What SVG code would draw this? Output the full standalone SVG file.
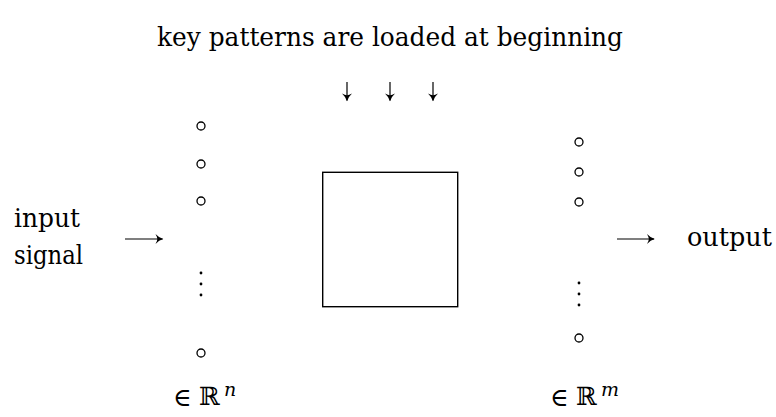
<svg xmlns="http://www.w3.org/2000/svg" width="776" height="417" viewBox="0 0 776 417">
  <style>
    text { fill: #000; }
    .lbl { font-family: "DejaVu Serif", "Liberation Serif", serif; font-size: 26px; }
    .math { font-family: "DejaVu Serif", "Liberation Serif", serif; font-size: 25px; }
    .sup { font-family: "DejaVu Serif", "Liberation Serif", serif; font-style: italic; font-size: 19px; }
    .unit { fill: #fff; stroke: #000; stroke-width: 1.3; }
    .dot { fill: #000; }
    .wire { stroke: #000; stroke-width: 1.2; fill: none; marker-end: url(#head); }
    .block { fill: #fff; stroke: #000; stroke-width: 1.4; }
  </style>
  <defs>
    <marker id="head" markerUnits="userSpaceOnUse" markerWidth="14" markerHeight="14" viewBox="-9 -7 11 14" refX="0" refY="0" orient="auto">
      <path d="M0.8,0 Q-3.5,-1.2 -7,-5 Q-5,-1.5 -5.2,0 Q-5,1.5 -7,5 Q-3.5,1.2 0.8,0 Z" fill="#000"/>
    </marker>
  </defs>

  <rect width="776" height="417" fill="#fff"/>

  <g id="title">
    <text class="lbl" x="157" y="46" textLength="466" lengthAdjust="spacingAndGlyphs">key patterns are loaded at beginning</text>
  </g>

  <g id="input-label">
    <text class="lbl" x="14" y="227" textLength="66" lengthAdjust="spacingAndGlyphs">input</text>
    <text class="lbl" x="14" y="264" textLength="69" lengthAdjust="spacingAndGlyphs">signal</text>
  </g>

  <g id="output-label">
    <text class="lbl" x="687" y="246" textLength="85" lengthAdjust="spacingAndGlyphs">output</text>
  </g>

  <g id="input-layer">
    <circle class="unit" cx="201" cy="126" r="4"/>
    <circle class="unit" cx="201" cy="164" r="4"/>
    <circle class="unit" cx="201" cy="201" r="4"/>
    <circle class="dot" cx="201" cy="273" r="1.4"/>
    <circle class="dot" cx="201" cy="284" r="1.4"/>
    <circle class="dot" cx="201" cy="295" r="1.4"/>
    <circle class="unit" cx="201" cy="353" r="4"/>
  </g>

  <g id="memory-block">
    <rect class="block" x="322.7" y="172.3" width="135" height="134.4"/>
  </g>

  <g id="output-layer">
    <circle class="unit" cx="579" cy="142" r="4"/>
    <circle class="unit" cx="579" cy="172" r="4"/>
    <circle class="unit" cx="579" cy="202" r="4"/>
    <circle class="dot" cx="579" cy="283" r="1.4"/>
    <circle class="dot" cx="579" cy="294" r="1.4"/>
    <circle class="dot" cx="579" cy="305" r="1.4"/>
    <circle class="unit" cx="579" cy="338" r="4"/>
  </g>

  <g id="input-space">
    <text class="math" x="173" y="406">∈</text>
    <text class="math" x="199" y="405">ℝ</text>
    <text class="sup" x="224" y="396">n</text>
  </g>

  <g id="output-space">
    <text class="math" x="550" y="406">∈</text>
    <text class="math" x="576" y="405">ℝ</text>
    <text class="sup" x="601" y="396">m</text>
  </g>

  <g id="connectors">
    <line class="wire" x1="125" y1="239" x2="162.5" y2="239"/>
    <line class="wire" x1="617" y1="239" x2="654" y2="239"/>
    <line class="wire" x1="347" y1="82" x2="347" y2="100.5"/>
    <line class="wire" x1="390" y1="82" x2="390" y2="100.5"/>
    <line class="wire" x1="433" y1="82" x2="433" y2="100.5"/>
  </g>
</svg>
